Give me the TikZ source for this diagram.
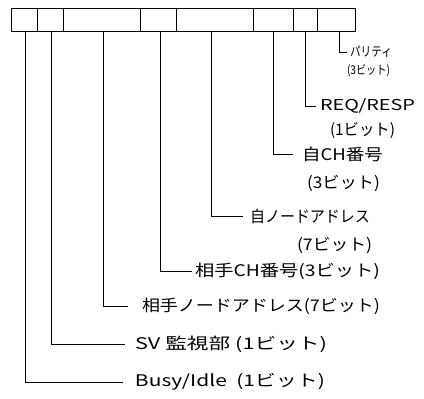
\documentclass[tikz,border=0pt]{standalone}
\usepackage{fontspec}
\usepackage{graphicx}
\newfontfamily\jp{Noto Sans CJK JP}
\newsavebox\lbbox
\newcommand\fitlab[3]{\sbox\lbbox{\fontsize{#1}{#1}\jp #3}\pgfmathsetmacro\lbr{#2/\the\wd\lbbox}\scalebox{\lbr}[1]{\usebox\lbbox}}
\begin{document}
\begin{tikzpicture}[x=1pt,y=-1pt,
  cell/.style={draw, line width=0.9pt, minimum height=23pt, anchor=north west, inner sep=0pt, outer sep=0pt},
  lab/.style={anchor=west, inner sep=0pt, outer sep=0pt},
  conn/.style={draw, line width=0.8pt}]
\useasboundingbox (0,0) rectangle (424,399);
% register cells
\node[cell, minimum width=26pt] (c1) at (11,8) {};
\node[cell, minimum width=26pt] (c2) at (37,8) {};
\node[cell, minimum width=77pt] (c3) at (63,8) {};
\node[cell, minimum width=36pt] (c4) at (140,8) {};
\node[cell, minimum width=77pt] (c5) at (176,8) {};
\node[cell, minimum width=40pt] (c6) at (253,8) {};
\node[cell, minimum width=24pt] (c7) at (293,8) {};
\node[cell, minimum width=38pt] (c8) at (317,8) {};
% labels
\node[lab] (t8) at (350,52) {\fitlab{13}{42}{パリティ}};
\node[lab] (t8b) at (347,71) {\fitlab{12}{43}{(3ビット)}};
\node[lab] (t7) at (320,106) {\fitlab{15}{95}{REQ/RESP}};
\node[lab] (t7b) at (330,130) {\fitlab{16}{65}{(1ビット)}};
\node[lab] (t6) at (302,154) {\fitlab{16}{81}{自CH番号}};
\node[lab] (t6b) at (307,183) {\fitlab{16}{73}{(3ビット)}};
\node[lab] (t5) at (250,216) {\fitlab{16}{120}{自ノードアドレス}};
\node[lab] (t5b) at (297,245) {\fitlab{16}{75}{(7ビット)}};
\node[lab] (t4) at (195,271) {\fitlab{16}{185}{相手CH番号(3ビット)}};
\node[lab] (t3) at (142,306) {\fitlab{16}{238}{相手ノードアドレス(7ビット)}};
\node[lab] (t2) at (135,344) {\fitlab{16}{192}{SV 監視部 (1ビット)}};
\node[lab] (t1) at (135,382) {\fitlab{16}{190}{Busy/Idle\ \ (1ビット)}};
% connectors
\draw[conn] ([xshift=1pt]c1.south) |- ([xshift=-12pt]t1.west);
\draw[conn] ([xshift=1pt]c2.south) |- ([xshift=-10pt]t2.west);
\draw[conn] ([xshift=1.5pt]c3.south) |- ([xshift=-14pt]t3.west);
\draw[conn] ([xshift=2pt]c4.south) |- ([xshift=-3pt]t4.west);
\draw[conn] ([xshift=-3.5pt]c5.south) |- ([xshift=-7pt]t5.west);
\draw[conn] (c6.south) |- ([xshift=-9pt]t6.west);
\draw[conn] (c7.south) |- ([xshift=-4pt]t7.west);
\draw[conn] ([xshift=3pt]c8.south) |- ([xshift=-3pt]t8.west);
\end{tikzpicture}
\end{document}
